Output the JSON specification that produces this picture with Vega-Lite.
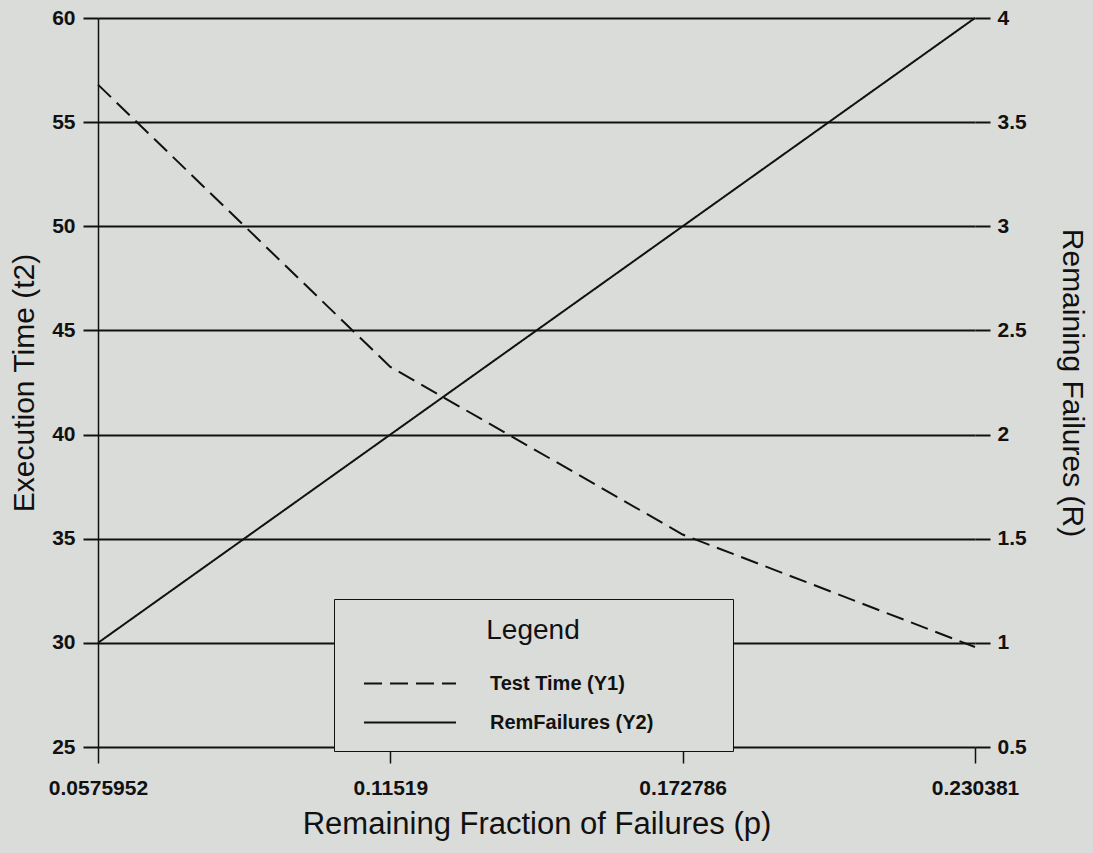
{
  "$schema": "https://vega.github.io/schema/vega-lite/v6.json",
  "width": 877,
  "height": 729,
  "autosize": "none",
  "padding": {"left": 98, "top": 18, "right": 118, "bottom": 106},
  "background": "#dadcd9",
  "config": {
    "view": {"stroke": null},
    "font": "Liberation Sans",
    "axis": {
      "labelFont": "Liberation Sans",
      "titleFont": "Liberation Sans",
      "labelColor": "#111",
      "titleColor": "#111",
      "labelFontSize": 21,
      "labelFontWeight": "bold",
      "labelFlush": false,
      "titleFontSize": 30,
      "titleFontWeight": "normal",
      "tickColor": "#111",
      "domainColor": "#111",
      "gridColor": "#111"
    }
  },
  "data": {
    "values": [
      {"p": 0.0575952, "series": "Test Time (Y1)", "value": 56.8},
      {"p": 0.11519, "series": "Test Time (Y1)", "value": 43.25},
      {"p": 0.172786, "series": "Test Time (Y1)", "value": 35.2},
      {"p": 0.230381, "series": "Test Time (Y1)", "value": 29.8},
      {"p": 0.0575952, "series": "RemFailures (Y2)", "value": 1},
      {"p": 0.11519, "series": "RemFailures (Y2)", "value": 2},
      {"p": 0.172786, "series": "RemFailures (Y2)", "value": 3},
      {"p": 0.230381, "series": "RemFailures (Y2)", "value": 4}
    ]
  },
  "encoding": {
    "x": {
      "field": "p",
      "type": "quantitative",
      "scale": {"domain": [0.0575952, 0.230381], "nice": false, "zero": false},
      "axis": {
        "title": "Remaining Fraction of Failures (p)",
        "titleFontSize": 31,
        "values": [0.0575952, 0.11519, 0.172786, 0.230381],
        "format": ".6~g",
        "labelFlush": false,
        "domain": false,
        "grid": false,
        "tickSize": 16,
        "tickWidth": 1.5,
        "labelPadding": 14,
        "titlePadding": 11
      }
    }
  },
  "layer": [
    {
      "transform": [{"filter": "datum.series === 'Test Time (Y1)'"}],
      "mark": {"type": "line", "color": "#111", "strokeWidth": 2},
      "encoding": {
        "y": {
          "field": "value",
          "type": "quantitative",
          "scale": {"domain": [25, 60], "nice": false, "zero": false},
          "axis": {
            "orient": "left",
            "title": "Execution Time (t2)",
            "values": [25, 30, 35, 40, 45, 50, 55, 60],
            "format": "d",
            "domain": true,
            "domainWidth": 1.5,
            "grid": true,
            "gridWidth": 2,
            "gridOpacity": 1,
            "tickSize": 15,
            "tickWidth": 2,
            "labelPadding": 8,
            "titlePadding": 12
          }
        },
        "strokeDash": {
          "field": "series",
          "type": "nominal",
          "scale": {
            "domain": ["Test Time (Y1)", "RemFailures (Y2)"],
            "range": [[18, 8], [1, 0]]
          },
          "legend": {
            "orient": "none",
            "legendX": 236,
            "legendY": 581,
            "title": "Legend",
            "titleFont": "Liberation Sans",
            "titleFontSize": 28,
            "titleFontWeight": "normal",
            "titleColor": "#111",
            "titleAnchor": "middle",
            "titlePadding": 28,
            "labelFont": "Liberation Sans",
            "labelFontSize": 20,
            "labelFontWeight": "bold",
            "labelColor": "#111",
            "labelLimit": 600,
            "labelExpr": "datum.label + '           \u200b'",
            "symbolType": "stroke",
            "symbolSize": 8464,
            "symbolStrokeWidth": 2,
            "symbolStrokeColor": "#111",
            "clipHeight": 21,
            "symbolOffset": 11,
            "labelOffset": 33,
            "rowPadding": 18,
            "padding": 18,
            "strokeColor": "#111",
            "fillColor": "#dadcd9"
          }
        }
      }
    },
    {
      "transform": [{"filter": "datum.series === 'RemFailures (Y2)'"}],
      "mark": {"type": "line", "color": "#111", "strokeWidth": 2},
      "encoding": {
        "y": {
          "field": "value",
          "type": "quantitative",
          "scale": {"domain": [0.5, 4], "nice": false, "zero": false},
          "axis": {
            "orient": "right",
            "title": "Remaining Failures (R)",
            "values": [0.5, 1, 1.5, 2, 2.5, 3, 3.5, 4],
            "format": "~g",
            "domain": false,
            "grid": false,
            "tickSize": 15,
            "tickWidth": 2,
            "labelPadding": 7,
            "titlePadding": 30
          }
        },
        "strokeDash": {
          "field": "series",
          "type": "nominal",
          "scale": {
            "domain": ["Test Time (Y1)", "RemFailures (Y2)"],
            "range": [[18, 8], [1, 0]]
          }
        }
      }
    }
  ],
  "resolve": {"scale": {"y": "independent"}}
}
